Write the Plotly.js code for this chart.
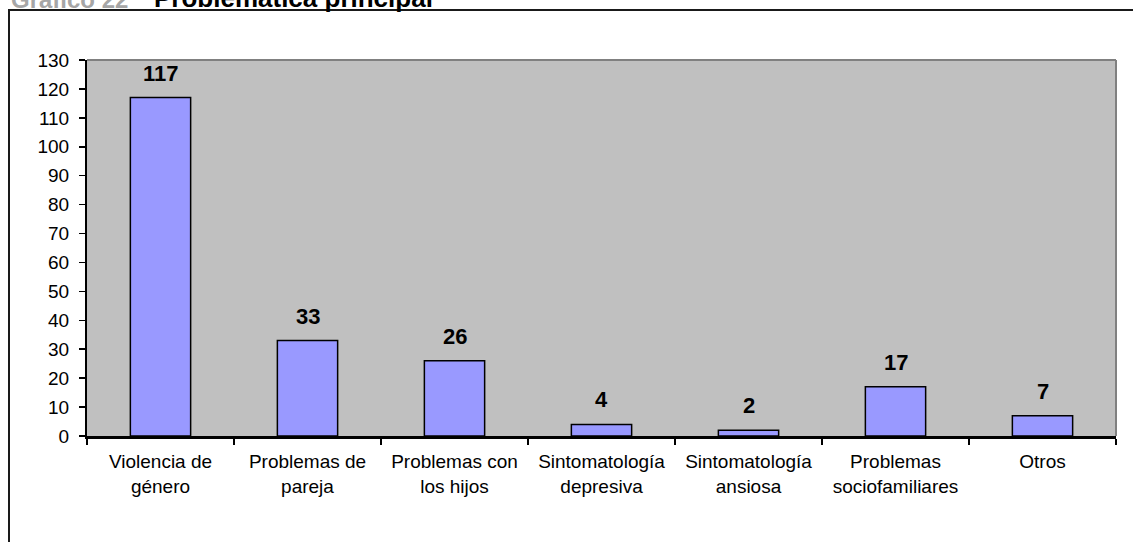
<!DOCTYPE html>
<html>
<head>
<meta charset="utf-8">
<script src="https://cdn.plot.ly/plotly-3.0.1.min.js"></script>
<style>
  html, body { margin: 0; padding: 0; background: #ffffff; }
  #wrap { position: relative; width: 1133px; height: 542px; overflow: hidden; }
  #frame { position: absolute; left: 8px; top: 9px; width: 1200px; height: 600px;
           border-left: 2px solid #1a1a1a; border-top: 2px solid #1a1a1a; }
  #chart { position: absolute; left: 0; top: 0; width: 1133px; height: 542px; }
</style>
</head>
<body>
<div id="wrap">
  <div id="frame"></div>
  <div id="chart"></div>
</div>
<script>
const categories = [
  "Violencia de<br>género",
  "Problemas de<br>pareja",
  "Problemas con<br>los hijos",
  "Sintomatología<br>depresiva",
  "Sintomatología<br>ansiosa",
  "Problemas<br>sociofamiliares",
  "Otros"
];
const values = [117, 33, 26, 4, 2, 17, 7];
const yTicks = [0, 10, 20, 30, 40, 50, 60, 70, 80, 90, 100, 110, 120, 130];
const chartNumber = "Gráfico 22";
const chartTitle = "Problemática principal";

const FONT = "Liberation Sans, Arial, sans-serif";

const trace = {
  type: "bar",
  x: categories,
  y: values,
  marker: { color: "#9999ff", line: { color: "#000000", width: 1.5 } },
  hoverinfo: "skip"
};

const valueLabels = categories.map((c, i) => ({
  x: c, y: values[i], xref: "x", yref: "y",
  text: "<b>" + values[i] + "</b>",
  showarrow: false, yanchor: "bottom", yshift: 10,
  font: { family: FONT, size: 22, color: "#000000" }
}));

const titleAnnotations = [
  { x: 0, y: 1, xref: "paper", yref: "paper", xanchor: "left", yanchor: "bottom",
    xshift: -78, yshift: 45, showarrow: false,
    text: "<b>" + chartNumber + "</b>",
    font: { family: FONT, size: 24, color: "#a6a6a6" } },
  { x: 0, y: 1, xref: "paper", yref: "paper", xanchor: "left", yanchor: "bottom",
    xshift: 65, yshift: 45, showarrow: false,
    text: "<b>" + chartTitle + "</b>",
    font: { family: FONT, size: 26, color: "#000000" } }
];

const layout = {
  width: 1133, height: 542,
  margin: { l: 87, r: 17, t: 60, b: 106 },
  paper_bgcolor: "rgba(0,0,0,0)",
  plot_bgcolor: "#c0c0c0",
  showlegend: false,
  bargap: 0.59,
  font: { family: FONT, size: 19, color: "#000000" },
  xaxis: {
    type: "category",
    tickson: "boundaries",
    ticks: "outside", ticklen: 6, tickwidth: 1.5, tickcolor: "#000000",
    ticklabelstandoff: 6,
    showline: true, linecolor: "#000000", linewidth: 3,
    showgrid: false, zeroline: false,
    tickfont: { family: FONT, size: 19, color: "#000000" }
  },
  yaxis: {
    range: [0, 130],
    tickvals: yTicks,
    ticktext: yTicks.map(String),
    ticks: "outside", ticklen: 6, tickwidth: 1.5, tickcolor: "#000000",
    ticklabelstandoff: 6,
    showline: true, linecolor: "#000000", linewidth: 2,
    showgrid: false, zeroline: false,
    tickfont: { family: FONT, size: 19, color: "#000000" }
  },
  shapes: [
    { type: "line", xref: "paper", yref: "paper", x0: 0, x1: 1, y0: 1, y1: 1,
      line: { color: "#808080", width: 2 }, layer: "below" },
    { type: "line", xref: "paper", yref: "paper", x0: 1, x1: 1, y0: 0, y1: 1,
      line: { color: "#808080", width: 2 }, layer: "below" }
  ],
  annotations: valueLabels.concat(titleAnnotations)
};

Plotly.newPlot("chart", [trace], layout, { staticPlot: true, displayModeBar: false });
</script>
</body>
</html>
